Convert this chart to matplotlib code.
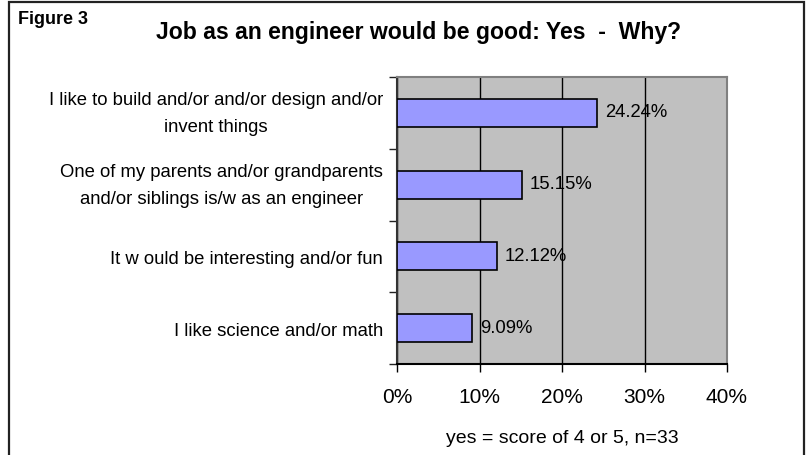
import numpy as np
import matplotlib.pyplot as plt
import matplotlib.transforms as mtransforms
from matplotlib.patches import Rectangle

plt.rcParams['font.family'] = ['Liberation Sans', 'DejaVu Sans']

categories = [
    "I like to build and/or and/or design and/or\ninvent things",
    "One of my parents and/or grandparents\nand/or siblings is/w as an engineer",
    "It w ould be interesting and/or fun",
    "I like science and/or math",
]
values = [24.24, 15.15, 12.12, 9.09]
x_ticks = [0, 10, 20, 30, 40]
x_ticklabels = ["0%", "10%", "20%", "30%", "40%"]

fig = plt.figure(figsize=(8.07, 4.55), dpi=100)
fig.patches.append(Rectangle((9 / 807, -0.01), 795 / 807, 1 - 2 / 455 + 0.01,
                             transform=fig.transFigure, fill=False,
                             edgecolor='#222222', linewidth=1.6))

ax = fig.add_axes([397 / 807, 1 - 364 / 455, 330 / 807, 287 / 455])
ax.set_facecolor('#C0C0C0')

y = np.arange(len(categories))
ax.barh(y, values, height=0.39, color='#9999FF', edgecolor='black', linewidth=1.2, zorder=3)
for yi, v in zip(y, values):
    ax.text(v + 0.95, yi, "{:.2f}%".format(v), va='center', ha='left', fontsize=13.3, zorder=4)

ax.set_xlim(0, 40)
ax.set_ylim(len(categories) - 0.5, -0.5)
ax.set_xticks(x_ticks)
ax.set_xticklabels(x_ticklabels, fontsize=15)
ax.xaxis.grid(True, color='black', linewidth=1.0, zorder=1)
ax.set_axisbelow(True)

# category labels drawn as text so the two-line ones can sit a bit higher
ax.set_yticks(np.arange(-0.5, len(categories), 1.0))
ax.set_yticklabels([])
ax.tick_params(axis='y', length=6, width=1.0, color='#222222', direction='out')
base = ax.get_yaxis_transform()
for yi, cat in zip(y, categories):
    dy = -1 if '\n' in cat else -3
    tr = base + mtransforms.ScaledTranslation(-14 / 100, dy / 100, fig.dpi_scale_trans)
    ax.text(0, yi, cat, transform=tr, ha='right', va='center', multialignment='center',
            fontsize=13.3, linespacing=1.75)

ax.tick_params(axis='x', length=6, width=1.0, direction='out', pad=11)

ax.spines['top'].set_color('#808080')
ax.spines['right'].set_color('#808080')
ax.spines['left'].set_color('#333333')
ax.spines['bottom'].set_color('black')
for s in ax.spines.values():
    s.set_linewidth(1.5)

ax.set_xlabel("yes = score of 4 or 5, n=33", fontsize=14, labelpad=17)

fig.text(18 / 807, 1 - 20 / 455, "Figure 3", fontsize=13, fontweight='bold', va='center', ha='left')
fig.text(419 / 807, 1 - 33 / 455, "Job as an engineer would be good: Yes  -  Why?",
         fontsize=16.6, fontweight='bold', va='center', ha='center')

fig.savefig('out.png', dpi=100)
